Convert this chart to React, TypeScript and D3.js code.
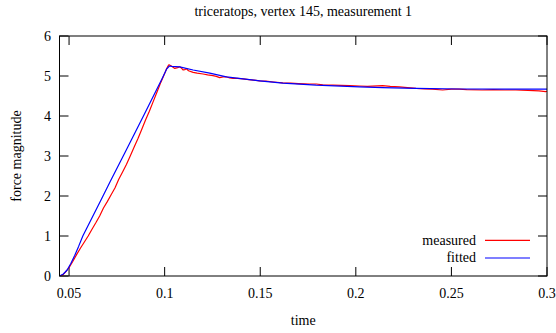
import React from "react";
import * as d3 from "d3";

const title = "triceratops, vertex 145, measurement 1";
const xLabel = "time";
const yLabel = "force magnitude";
const xTicks = [0.05, 0.1, 0.15, 0.2, 0.25, 0.3];
const xTickLabels = ["0.05", "0.1", "0.15", "0.2", "0.25", "0.3"];
const yTicks = [0, 1, 2, 3, 4, 5, 6];
const seriesNames = ["measured", "fitted"];
const seriesColors = ["#ff0000", "#0000ff"];

const measuredT = [
  0.045, 0.046, 0.047, 0.048, 0.049, 0.05, 0.051, 0.052, 0.054, 0.056, 0.058, 0.06,
  0.062, 0.064, 0.066, 0.068, 0.07, 0.072, 0.074, 0.076, 0.078, 0.08, 0.082, 0.084,
  0.086, 0.088, 0.09, 0.092, 0.094, 0.096, 0.098, 0.099, 0.1, 0.101, 0.102, 0.1023,
  0.1035, 0.1053, 0.1068, 0.1079, 0.1089, 0.1097, 0.1105, 0.1114, 0.1125, 0.1149,
  0.117, 0.1201, 0.1225, 0.1253, 0.127, 0.1288, 0.1305, 0.1323, 0.134, 0.1358,
  0.138, 0.141, 0.144, 0.1497, 0.153, 0.157, 0.1618, 0.166, 0.17, 0.1758, 0.1793,
  0.1827, 0.188, 0.1967, 0.2019, 0.206, 0.214, 0.218, 0.2228, 0.227, 0.2315, 0.236,
  0.24, 0.2454, 0.25, 0.2541, 0.258, 0.2661, 0.272, 0.278, 0.2837, 0.29, 0.2958,
  0.2993, 0.3,
];
const measuredF = [
  0, 0.01, 0.04, 0.09, 0.15, 0.21, 0.29, 0.37, 0.54, 0.7, 0.85, 1.0,
  1.17, 1.33, 1.5, 1.7, 1.86, 2.03, 2.2, 2.42, 2.6, 2.79, 3.0, 3.22,
  3.43, 3.66, 3.9, 4.12, 4.36, 4.6, 4.84, 4.95, 5.06, 5.18, 5.27, 5.28,
  5.25, 5.19, 5.21, 5.23, 5.19, 5.15, 5.16, 5.18, 5.13, 5.09,
  5.07, 5.05, 5.03, 5.01, 4.99, 4.96, 4.98, 4.98, 4.95, 4.94,
  4.94, 4.93, 4.91, 4.88, 4.87, 4.85, 4.83, 4.82, 4.81, 4.8, 4.8,
  4.78, 4.77, 4.76, 4.75, 4.74, 4.76, 4.74, 4.73, 4.71, 4.69, 4.68,
  4.67, 4.65, 4.67, 4.67, 4.66, 4.65, 4.66, 4.65, 4.65, 4.64, 4.63,
  4.61, 4.62,
];

const fittedT = [
  0.045, 0.047, 0.049, 0.051, 0.053, 0.055, 0.0572, 0.0671, 0.0714, 0.0792, 0.0893,
  0.0987, 0.101, 0.1025, 0.1036, 0.1079, 0.1149, 0.1236, 0.1323, 0.141, 0.1497,
  0.1618, 0.1793, 0.2019, 0.214, 0.2315, 0.2541, 0.28, 0.3,
];
const fittedF = [
  0, 0.05, 0.15, 0.32, 0.52, 0.74, 1.0, 1.94, 2.35, 3.08, 4.04,
  4.94, 5.17, 5.25, 5.24, 5.23, 5.15, 5.07, 4.98, 4.93, 4.88,
  4.82, 4.77, 4.73, 4.71, 4.69, 4.675, 4.67, 4.67,
];

const W = 556;
const H = 333;
const left = 59.5;
const right = 547;
const top = 36;
const bottom = 276;
const font = "'Liberation Serif', 'DejaVu Serif', serif";

export default function App() {
  const x = d3.scaleLinear().domain([0.045, 0.3]).range([left, right]);
  const y = d3.scaleLinear().domain([0, 6]).range([bottom, top]);
  const line = d3
    .line<[number, number]>()
    .x((d) => x(d[0]))
    .y((d) => y(d[1]));
  const measured: [number, number][] = measuredT.map((t, i) => [t, measuredF[i]]);
  const fitted: [number, number][] = fittedT.map((t, i) => [t, fittedF[i]]);
  const series = [measured, fitted];
  const tl = 9;

  return (
    <svg
      width={W}
      height={H}
      style={{ position: "absolute", left: 0, top: 0, background: "#fff", fontFamily: font, fontSize: 14 }}
    >
      <rect x={0} y={0} width={W} height={H} fill="#fff" />
      <defs>
        <clipPath id="plotclip">
          <rect x={left} y={top - 2} width={right - left} height={bottom - top + 2} />
        </clipPath>
      </defs>
      <text x={(left + right) / 2} y={16} textAnchor="middle">
        {title}
      </text>
      {xTicks.map((t, i) => (
        <g key={"xt" + i}>
          <line x1={x(t)} x2={x(t)} y1={bottom} y2={bottom - tl} stroke="#000" strokeWidth={1} />
          <line x1={x(t)} x2={x(t)} y1={top} y2={top + tl} stroke="#000" strokeWidth={1} />
          <text x={x(t)} y={298} textAnchor="middle">
            {xTickLabels[i]}
          </text>
        </g>
      ))}
      {yTicks.map((v, i) => (
        <g key={"yt" + i}>
          <line x1={left} x2={left + tl} y1={y(v)} y2={y(v)} stroke="#000" strokeWidth={1} />
          <line x1={right} x2={right - tl} y1={y(v)} y2={y(v)} stroke="#000" strokeWidth={1} />
          <text x={51} y={y(v) + 4.5} textAnchor="end">
            {String(v)}
          </text>
        </g>
      ))}
      <text x={(left + right) / 2} y={325} textAnchor="middle">
        {xLabel}
      </text>
      <text transform={`translate(21, ${(top + bottom) / 2}) rotate(-90)`} textAnchor="middle">
        {yLabel}
      </text>
      {seriesNames.map((n, i) => (
        <g key={"lg" + i}>
          <text x={476} y={244.5 + i * 17.7} textAnchor="end">
            {n}
          </text>
          <line
            x1={485}
            x2={530}
            y1={240.3 + i * 17.7}
            y2={240.3 + i * 17.7}
            stroke={seriesColors[i]}
            strokeWidth={1.2}
          />
        </g>
      ))}
      <g clipPath="url(#plotclip)">
        {series.map((s, i) => (
          <path
            key={"s" + i}
            d={line(s) || ""}
            fill="none"
            stroke={seriesColors[i]}
            strokeWidth={1.2}
            strokeLinejoin="round"
          />
        ))}
      </g>
      <rect
        x={left}
        y={top}
        width={right - left}
        height={bottom - top}
        fill="none"
        stroke="#000"
        strokeWidth={1}
      />
    </svg>
  );
}
